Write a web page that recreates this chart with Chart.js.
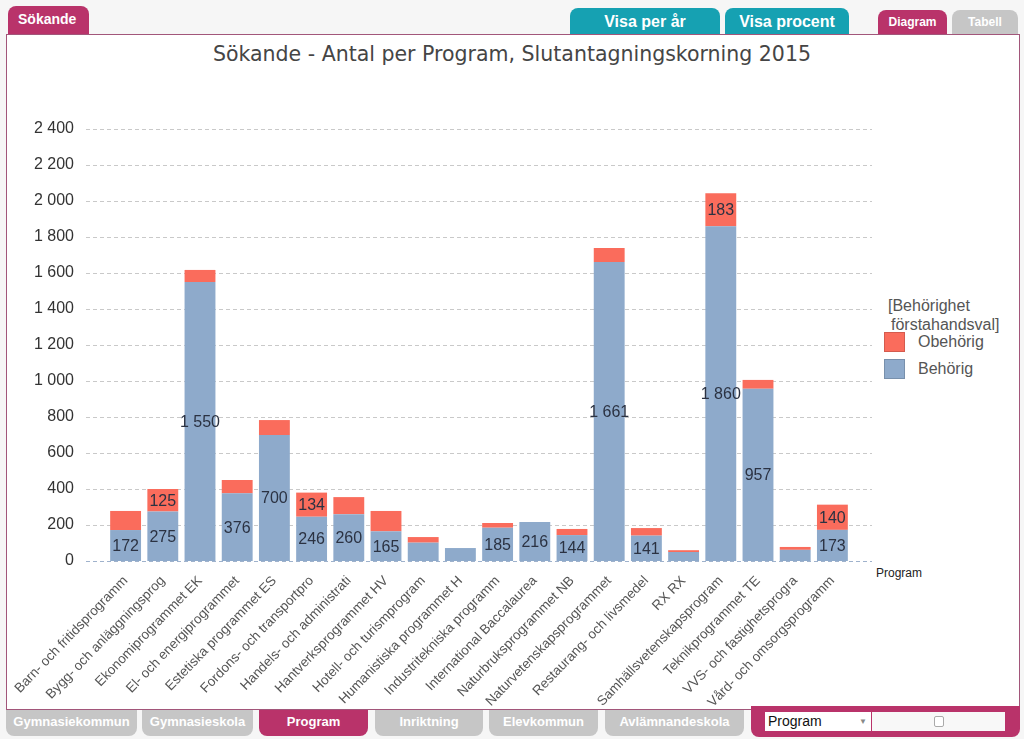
<!DOCTYPE html>
<html lang="sv">
<head>
<meta charset="utf-8">
<title>Sökande - Antal per Program</title>
<script src="https://cdn.jsdelivr.net/npm/chart.js@4.4.1/dist/chart.umd.min.js"></script>
<style>
  body { margin: 0; width: 1024px; height: 739px; background: #f6f6f6; position: relative; overflow: hidden;
         font-family: "Liberation Sans", Arial, sans-serif; }
  .tab { position: absolute; color: #fff; font-weight: bold; box-sizing: border-box; text-align: center;
         font-family: "Liberation Sans Narrow", "Liberation Sans", Arial, sans-serif; }
  .top { border-radius: 8px 8px 0 0; }
  .bottom { border-radius: 0 0 8px 8px; }
  .pink { background: #b9336a; }
  .teal { background: #16a1b2; }
  .grey { background: #c6c6c6; }
  #panel { position: absolute; left: 6px; top: 34px; width: 1014px; height: 676px; box-sizing: border-box;
           background: #fff; border: 1px solid #a2567a; }
  #title { position: absolute; left: 0; width: 1024px; top: 42px; text-align: center; font-family: "DejaVu Sans", sans-serif;
           font-size: 20.5px; color: #454545; }
  #legend { position: absolute; left: 884px; top: 296px; font-size: 16px; color: #555; line-height: 19px; }
  #legend .item { position: relative; height: 27px; }
  #legend .sw { position: absolute; left: 0; top: 1px; width: 21px; height: 20px; box-sizing: border-box; border: 1px solid rgba(0,0,0,0.15); }
  #legend .lbl { position: absolute; left: 34px; top: 1px; }
  #xtitle { position: absolute; left: 876px; top: 566px; font-size: 12px; color: #222; }
  canvas { position: absolute; left: 0; top: 0; pointer-events: none; }
</style>
</head>
<body>
<div class="tab top pink" style="left:8px;top:6px;width:81px;height:28px;font-size:14px;line-height:26px;text-align:left;padding-left:10px;">Sökande</div>
<div class="tab top teal" style="left:570px;top:8px;width:150px;height:26px;font-size:16px;line-height:27px;">Visa per år</div>
<div class="tab top teal" style="left:725px;top:8px;width:124px;height:26px;font-size:16px;line-height:27px;">Visa procent</div>
<div class="tab top pink" style="left:878px;top:10px;width:69px;height:24px;font-size:12px;line-height:25px;">Diagram</div>
<div class="tab top grey" style="left:952px;top:10px;width:66px;height:24px;font-size:12px;line-height:25px;">Tabell</div>

<div id="panel"></div>
<div id="title">Sökande - Antal per Program, Slutantagningskorning 2015</div>
<div id="legend">
  <div style="margin-left:4px;">[Behörighet</div>
  <div style="margin-left:7px;margin-bottom:-3px;">förstahandsval]</div>
  <div id="legendItems"></div>
</div>
<div id="xtitle">Program</div>

<div class="tab bottom grey" style="left:6px;top:710px;width:131px;height:26px;font-size:13px;line-height:24px;">Gymnasiekommun</div>
<div class="tab bottom grey" style="left:142px;top:710px;width:111px;height:26px;font-size:13px;line-height:24px;">Gymnasieskola</div>
<div class="tab bottom pink" style="left:259px;top:710px;width:109px;height:26px;font-size:13px;line-height:24px;">Program</div>
<div class="tab bottom grey" style="left:375px;top:710px;width:108px;height:26px;font-size:13px;line-height:24px;">Inriktning</div>
<div class="tab bottom grey" style="left:489px;top:710px;width:109px;height:26px;font-size:13px;line-height:24px;">Elevkommun</div>
<div class="tab bottom grey" style="left:605px;top:710px;width:139px;height:26px;font-size:13px;line-height:24px;">Avlämnandeskola</div>
<div class="tab bottom pink" style="left:751px;top:706px;width:269px;height:31px;"></div>
<div style="position:absolute;left:765px;top:712px;width:106px;height:19px;background:#fff;font-size:14px;color:#111;line-height:19px;padding-left:3px;box-sizing:border-box;">Program<span style="position:absolute;right:4px;top:0;font-size:8px;color:#888;">&#9660;</span></div>
<div style="position:absolute;left:872px;top:712px;width:133px;height:19px;background:#f8f8f8;"></div>
<div style="position:absolute;left:934px;top:716px;width:8px;height:9px;border:1px solid #aaa;border-radius:2px;background:#fff;"></div>

<canvas id="chart" width="1024" height="739"></canvas>

<script>
// Kategorier (programnamn, avkortade som i originalet)
const programs = [
  'Barn- och fritidsprogramm', 'Bygg- och anläggningsprog', 'Ekonomiprogrammet EK',
  'El- och energiprogrammet', 'Estetiska programmet ES', 'Fordons- och transportpro',
  'Handels- och administrati', 'Hantverksprogrammet HV', 'Hotell- och turismprogram',
  'Humanistiska programmet H', 'Industritekniska programm', 'International Baccalaurea',
  'Naturbruksprogrammet NB', 'Naturvetenskapsprogrammet', 'Restaurang- och livsmedel',
  'RX RX', 'Samhällsvetenskapsprogram', 'Teknikprogrammet TE',
  'VVS- och fastighetsprogra', 'Vård- och omsorgsprogramm'
];

// Sökande per behörighet
const behorig  = [172, 275, 1550, 376, 700, 246, 260, 165, 102, 72, 185, 216, 144, 1661, 141, 50, 1860, 957, 62, 173];
const obehorig = [106, 125, 67, 74, 83, 134, 95, 113, 31, 0, 26, 0, 34, 78, 42, 10, 183, 49, 16, 140];

// Y-axelns skala
const yMax = 2400;
const yStep = 200;

// Minsta värde som får en etikett i stapeln
const labelMin = 120;

const colBehorig = '#8eaacb';
const colObehorig = '#fa6c5c';

function formatNumber(v) {
  return String(v).replace(/\B(?=(\d{3})+(?!\d))/g, ' ');
}

// Streckade stödlinjer, lite bredare än själva stapelområdet
const gridPlugin = {
  id: 'dashedGrid',
  beforeDatasetsDraw(chart) {
    const { ctx, chartArea, scales } = chart;
    const y = scales.y;
    ctx.save();
    ctx.lineWidth = 1;
    ctx.setLineDash([4, 3]);
    y.ticks.forEach(t => {
      const py = Math.round(y.getPixelForValue(t.value)) + 0.5;
      ctx.strokeStyle = t.value === 0 ? '#9fb2cc' : '#c9c9c9';
      ctx.beginPath();
      ctx.moveTo(chartArea.left - 21, py);
      ctx.lineTo(chartArea.right + 21, py);
      ctx.stroke();
    });
    ctx.restore();
  }
};

// Värdeetiketter mitt i varje segment
const labelPlugin = {
  id: 'barLabels',
  afterDatasetsDraw(chart) {
    const { ctx } = chart;
    ctx.save();
    ctx.font = '16px "Liberation Sans", Arial, sans-serif';
    ctx.fillStyle = '#2b3242';
    ctx.textAlign = 'center';
    ctx.textBaseline = 'middle';
    chart.data.datasets.forEach((ds, di) => {
      const meta = chart.getDatasetMeta(di);
      meta.data.forEach((bar, i) => {
        const v = ds.data[i];
        if (v < labelMin) return;
        ctx.fillText(formatNumber(v), bar.x, (bar.y + bar.base) / 2 + 1);
      });
    });
    ctx.restore();
  }
};

const datasets = [
  { label: 'Behörig', data: behorig, backgroundColor: colBehorig },
  { label: 'Obehörig', data: obehorig, backgroundColor: colObehorig }
];

// Legend: Obehörig överst, som i originalet
document.getElementById('legendItems').innerHTML = datasets.slice().reverse().map(ds =>
  `<div class="item"><div class="sw" style="background:${ds.backgroundColor}"></div><div class="lbl">${ds.label}</div></div>`
).join('');

new Chart(document.getElementById('chart'), {
  type: 'bar',
  data: { labels: programs, datasets: datasets },
  options: {
    responsive: false,
    animation: false,
    layout: { padding: { top: 129, right: 173, bottom: 0, left: 0 } },
    datasets: { bar: { categoryPercentage: 1, barPercentage: 0.83 } },
    plugins: { legend: { display: false }, tooltip: { enabled: false } },
    scales: {
      x: {
        stacked: true,
        grid: { display: false, drawTicks: false },
        border: { display: false },
        afterFit: s => { s.height = 178; },
        ticks: {
          autoSkip: false, minRotation: 46, maxRotation: 46, padding: 12,
          color: '#555', font: { family: '"Liberation Sans", Arial, sans-serif', size: 13.5 }
        }
      },
      y: {
        stacked: true,
        min: 0, max: yMax,
        grid: { display: false, drawTicks: false },
        border: { display: false },
        afterFit: s => { s.width = 107; },
        ticks: {
          stepSize: yStep, padding: 33, color: '#333',
          font: { family: '"Liberation Sans", Arial, sans-serif', size: 16 },
          callback: v => formatNumber(v)
        }
      }
    }
  },
  plugins: [gridPlugin, labelPlugin]
});
</script>
</body>
</html>
